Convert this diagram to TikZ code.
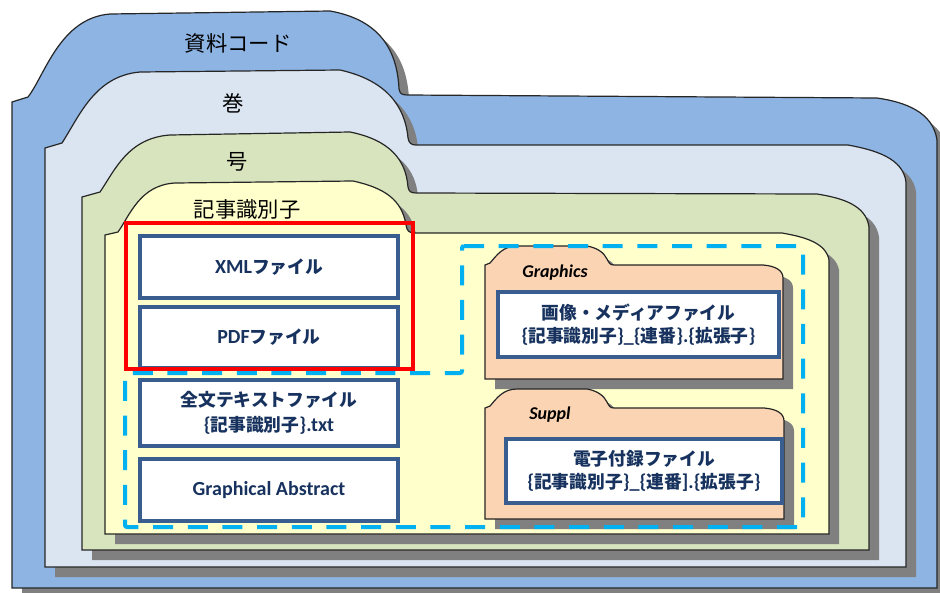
\documentclass[tikz,border=0pt]{standalone}
\usepackage{fontspec}
\setmainfont{Carlito}
\newfontfamily\jp{Noto Sans CJK JP}
\definecolor{blueF}{HTML}{8EB4E3}
\definecolor{lblueF}{HTML}{DBE5F1}
\definecolor{greenF}{HTML}{D7E4BD}
\definecolor{yellowF}{HTML}{FFFFCC}
\definecolor{peachF}{HTML}{FBD4B4}
\definecolor{shadowG}{HTML}{808080}
\definecolor{boxB}{HTML}{3A5D8F}
\definecolor{textN}{HTML}{17325E}
\definecolor{cyanD}{HTML}{00B0F0}
\tikzset{
  folder/.style={draw=black!85, line width=0.9pt},
  fshadow/.style={fill=shadowG, shift={(10,10)}},
  filebox/.style={draw=boxB, line width=2.5pt, fill=white, align=center, inner sep=0pt,
    text=textN, font=\bfseries\fontsize{15}{19}\selectfont},
  headlbl/.style={font=\jp\fontsize{16}{19}\selectfont, text=black, inner sep=0pt},
  subfolderlbl/.style={font=\bfseries\itshape\fontsize{13.5}{16}\selectfont, text=black, inner sep=0pt},
  groupline/.style={draw=cyanD, line width=3pt, dash pattern=on 15pt off 11pt, rounded corners=1.5pt},
  redframe/.style={draw=red, line width=3pt}
}
\newcommand{\jb}[1]{{\jp\fontsize{13.3}{19}\selectfont #1}}
\def\pthA{(12,588) -- (12,102) -- (28,97) .. controls (45,75) and (60,18) .. (110,14) -- (330,11) .. controls (375,19) and (397,45) .. (399,89) .. controls (400,94) and (402,95) .. (408,95) -- (877,98) .. controls (905,102) and (933,112) .. (937,140) -- (937,588) -- cycle}
\def\pthB{(45,567) -- (45,148) -- (62,143) .. controls (80,115) and (95,76) .. (140,72) -- (340,70) .. controls (385,80) and (405,105) .. (408,138) .. controls (409,143) and (411,145) .. (416,145) -- (848,145) .. controls (875,150) and (903,158) .. (906,182) -- (906,567) -- cycle}
\def\pthC{(82,550) -- (82,197) -- (100,192) .. controls (115,170) and (128,138) .. (170,135) -- (350,132) .. controls (390,140) and (406,160) .. (408,187) .. controls (409,192) and (411,193) .. (417,193) -- (817,194) .. controls (842,198) and (866,205) .. (869,227) -- (869,550) -- cycle}
\def\pthD{(105,534) -- (105,235) -- (118,232) .. controls (130,215) and (140,185) .. (175,183) -- (353,181) .. controls (385,188) and (402,200) .. (406,225) .. controls (407,231) and (409,233) .. (415,233) -- (782,233) .. controls (805,237) and (826,243) .. (829,260) -- (829,534) -- cycle}
\def\pthE{(485,379) -- (485,265) -- (490,263) .. controls (497,255) and (503,246) .. (517,246) -- (587,246) .. controls (598,248) and (604,253) .. (607,259) .. controls (609,263) and (610,265) .. (614,265) -- (763,265) .. controls (775,266) and (783,270) .. (783,278) -- (783,379) -- cycle}
\def\pthF{(485,519) -- (485,408) -- (490,406) .. controls (497,398) and (503,389) .. (517,389) -- (587,389) .. controls (598,391) and (604,396) .. (607,402) .. controls (609,406) and (610,408) .. (614,408) -- (764,408) .. controls (776,409) and (784,413) .. (784,421) -- (784,519) -- cycle}
\begin{document}
\begin{tikzpicture}[x=0.75pt, y=-0.75pt]
\useasboundingbox (0,0) rectangle (940,593);
\fill[white] (0,0) rectangle (940,593);
% folders with shadows
\fill[fshadow] \pthA;
\filldraw[folder, fill=blueF] \pthA;
\fill[fshadow] \pthB;
\filldraw[folder, fill=lblueF] \pthB;
\fill[fshadow] \pthC;
\filldraw[folder, fill=greenF] \pthC;
\fill[fshadow] \pthD;
\filldraw[folder, fill=yellowF] \pthD;
\fill[fshadow] \pthE;
\filldraw[folder, fill=peachF] \pthE;
\fill[fshadow] \pthF;
\filldraw[folder, fill=peachF] \pthF;
% folder labels
\node[headlbl] (lshiryo) at (238,43) {資料コード};
\node[headlbl] (lkan) at (233,103) {巻};
\node[headlbl] (lgo) at (237,162) {号};
\node[headlbl] (lkiji) at (247,209) {記事識別子};
\node[subfolderlbl] (lgraphics) at (555,273) {Graphics};
\node[subfolderlbl] (lsuppl) at (550,415) {Suppl};
% file boxes
\node[filebox, minimum width=193.5pt, minimum height=46.5pt] (xml) at (269,267) {XML\jb{ファイル}};
\node[filebox, minimum width=193.5pt, minimum height=45.75pt] (pdf) at (269,337.5) {PDF\jb{ファイル}};
\node[filebox, minimum width=193.5pt, minimum height=49.5pt] (fulltext) at (269,413) {\jb{全文テキストファイル}\\[-0.5pt]\{\jb{記事識別子}\}.txt};
\node[filebox, minimum width=193.5pt, minimum height=46.5pt] (gabs) at (269,490) {Graphical Abstract};
\node[filebox, minimum width=210.75pt, minimum height=48.75pt] (media) at (638.5,324.5) {\jb{画像・メディアファイル}\\[-1.5pt]\{\jb{記事識別子}\}\_\{\jb{連番}\}.\{\jb{拡張子}\}};
\node[filebox, minimum width=207pt, minimum height=48pt] (suppl) at (644,471) {\jb{電子付録ファイル}\\[-1.5pt]\{\jb{記事識別子}\}\_\{\jb{連番}].\{\jb{拡張子}\}};
% group outlines
\draw[redframe] (126,223) rectangle (413,369);
\draw[groupline] (462,246) -- (803,246) -- (803,527) -- (125,527) -- (125,373) -- (462,373) -- cycle;
\end{tikzpicture}
\end{document}
